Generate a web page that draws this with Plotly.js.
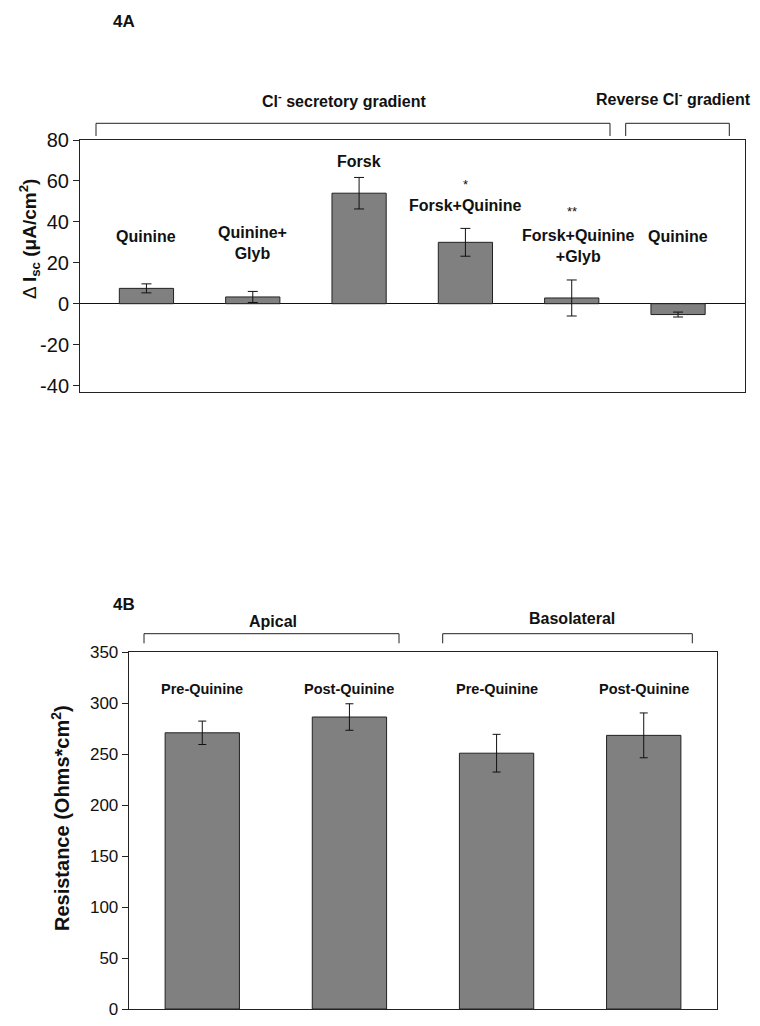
<!DOCTYPE html>
<html>
<head>
<meta charset="utf-8">
<script src="https://cdn.plot.ly/plotly-3.0.1.min.js"></script>
<style>html,body{margin:0;padding:0;background:#fff;}#chart{width:760px;height:1026px;}</style>
</head>
<body>
<div id="chart"></div>
<script>
// ---- Data (Figure 4A) ----
const catsA = ['Quinine', 'Quinine+<br>Glyb', 'Forsk', 'Forsk+Quinine', 'Forsk+Quinine<br>+Glyb', 'Quinine'];
const valsA = [7.5, 3.3, 54, 30, 2.8, -5.3];
const errA = [2.2, 2.7, 7.7, 6.8, 8.8, 1.2];
const sigA = ['', '', '', '*', '**', ''];
const groupsA = ['Cl<sup>-</sup> secretory gradient', 'Reverse Cl<sup>-</sup> gradient'];
const ticksA = [-40, -20, 0, 20, 40, 60, 80];

// ---- Data (Figure 4B) ----
const catsB = ['Pre-Quinine', 'Post-Quinine', 'Pre-Quinine', 'Post-Quinine'];
const valsB = [271, 286.5, 251, 268.5];
const errB = [11.5, 13, 18.5, 22];
const groupsB = ['Apical', 'Basolateral'];
const ticksB = [0, 50, 100, 150, 200, 250, 300, 350];

// ---- Layout helpers ----
const W = 760, H = 1026;
const px = v => v / W;
const py = v => 1 - v / H;
const FONT = 'Liberation Sans, Arial, Helvetica, sans-serif';
const INK = '#111';
const idxA = catsA.map((_, i) => i);
const idxB = catsB.map((_, i) => i);

const traces = [
  {
    type: 'bar', x: idxA, y: valsA, xaxis: 'x', yaxis: 'y', width: 0.51,
    marker: {color: '#808080', line: {color: '#222', width: 1}},
    error_y: {type: 'data', array: errA, visible: true, color: INK, thickness: 1, width: 5},
    hoverinfo: 'skip', showlegend: false
  },
  {
    type: 'bar', x: idxB, y: valsB, xaxis: 'x2', yaxis: 'y2', width: 0.505,
    marker: {color: '#808080', line: {color: '#222', width: 1}},
    error_y: {type: 'data', array: errB, visible: true, color: INK, thickness: 1, width: 4},
    hoverinfo: 'skip', showlegend: false
  }
];

const axisBase = {showline: true, linecolor: '#222', linewidth: 1, mirror: true, showgrid: false, fixedrange: true};

// label placement (data-unit y of each label, in chart A / B)
const labelYA = [32.7, 29.9, 69.4, 48.2, 28.0, 32.7];
const labelDxA = [0, 0, 0, 0, 0.06, 0];
const sigYA = [0, 0, 0, 58.5, 45.3, 0];
const labelYB = 313.7;

const annotations = [];
catsA.forEach((c, i) => {
  annotations.push({xref: 'x', yref: 'y', x: idxA[i] + labelDxA[i], y: labelYA[i], text: '<b>' + c + '</b>',
    showarrow: false, font: {family: FONT, size: 16, color: INK}, xanchor: 'center', yanchor: 'middle'});
  if (sigA[i]) {
    annotations.push({xref: 'x', yref: 'y', x: idxA[i], y: sigYA[i], text: sigA[i],
      showarrow: false, font: {family: FONT, size: 13, color: INK}, xanchor: 'center', yanchor: 'middle'});
  }
});
catsB.forEach((c, i) => {
  annotations.push({xref: 'x2', yref: 'y2', x: idxB[i], y: labelYB, text: '<b>' + c + '</b>',
    showarrow: false, font: {family: FONT, size: 14.5, color: INK}, xanchor: 'center', yanchor: 'middle'});
});

// panel letters, group titles, axis titles
const paperText = (text, x, y, size, angle) => ({xref: 'paper', yref: 'paper', x: px(x), y: py(y), text: text,
  showarrow: false, font: {family: FONT, size: size, color: INK}, xanchor: 'center', yanchor: 'middle', textangle: angle || 0});
annotations.push(paperText('<b>4A</b>', 124, 21, 17));
annotations.push(paperText('<b>4B</b>', 124, 604, 17));
annotations.push(paperText('<b>' + groupsA[0] + '</b>', 344, 100, 16));
annotations.push(paperText('<b>' + groupsA[1] + '</b>', 673, 98, 16));
annotations.push(paperText('<b>' + groupsB[0] + '</b>', 273, 621, 16));
annotations.push(paperText('<b>' + groupsB[1] + '</b>', 572, 618, 16));
annotations.push(paperText('Δ <b>I<sub>sc</sub> (μA/cm<sup>2</sup>)</b>', 30, 239, 19, -90));
annotations.push(paperText('<b>Resistance (Ohms*cm<sup>2</sup>)</b>', 60, 818, 20, -90));

// brackets
const bracket = (x0, x1, yTop, yBot) => ({
  type: 'path', xref: 'paper', yref: 'paper',
  path: `M ${px(x0)} ${py(yBot)} L ${px(x0)} ${py(yTop)} L ${px(x1)} ${py(yTop)} L ${px(x1)} ${py(yBot)}`,
  line: {color: '#222', width: 1}
});
const shapes = [
  bracket(96, 610, 123.3, 136),
  bracket(625.7, 729.3, 123.3, 136),
  bracket(144, 399, 633.7, 643.3),
  bracket(442.7, 692.3, 633.7, 643.3)
];

const layout = {
  width: W, height: H,
  margin: {l: 0, r: 0, t: 0, b: 0},
  paper_bgcolor: '#fff', plot_bgcolor: '#fff',
  font: {family: FONT, color: INK},
  bargap: 0,
  xaxis: Object.assign({}, axisBase, {domain: [px(80), px(744.5)], range: [-0.625, 5.625], showticklabels: false, ticks: '', zeroline: false, anchor: 'y'}),
  yaxis: Object.assign({}, axisBase, {domain: [py(391.7), py(140)], range: [-43, 80], tickmode: 'array', tickvals: ticksA, ticktext: ticksA.map(String),
    ticks: 'outside', ticklen: 6, tickcolor: '#222',
    tickfont: {family: FONT, size: 20, color: INK}, zeroline: true, zerolinecolor: '#111', zerolinewidth: 1, anchor: 'x'}),
  xaxis2: Object.assign({}, axisBase, {domain: [px(128.7), px(717.3)], range: [-0.5, 3.5], showticklabels: false, ticks: '', zeroline: false, anchor: 'y2'}),
  yaxis2: Object.assign({}, axisBase, {domain: [py(1009), py(652.3)], range: [0, 350], tickmode: 'array', tickvals: ticksB, ticktext: ticksB.map(String),
    ticks: 'outside', ticklen: 6, tickcolor: '#222',
    tickfont: {family: FONT, size: 17, color: INK}, zeroline: false, anchor: 'x2'}),
  annotations: annotations,
  shapes: shapes
};

Plotly.newPlot('chart', traces, layout, {staticPlot: true, displayModeBar: false});
</script>
</body>
</html>
